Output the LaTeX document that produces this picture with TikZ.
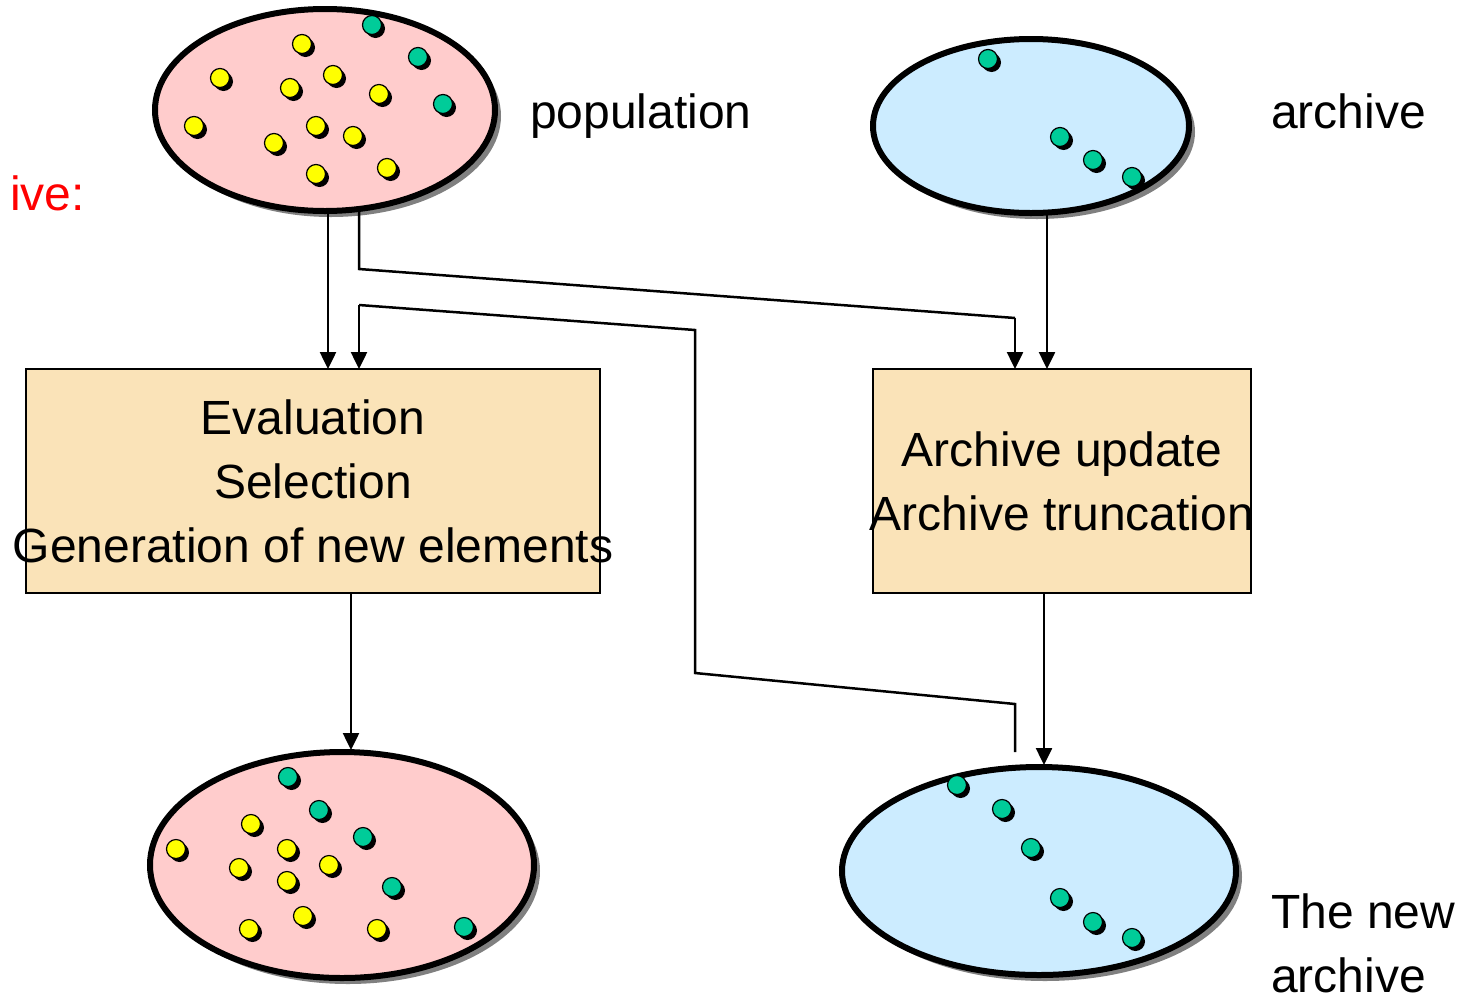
\documentclass[tikz,border=0pt]{standalone}
\usepackage{fontspec}
\setmainfont{Liberation Sans}
\usetikzlibrary{shapes.geometric,shadows,arrows.meta}
\definecolor{popfill}{HTML}{FFCCCC}
\definecolor{archfill}{HTML}{CCECFF}
\definecolor{boxfill}{HTML}{FAE3B8}
\definecolor{dotgreen}{HTML}{00CC99}
\definecolor{dotyellow}{HTML}{FFFF00}
\begin{document}
\begin{tikzpicture}[x=1pt,y=-1pt,
  every node/.style={font=\fontsize{48}{64}\selectfont},
  setell/.style={ellipse, draw=black, line width=6pt, inner sep=0pt, outer sep=0pt,
    drop shadow={shadow xshift=6pt, shadow yshift=-6pt, fill=black!50, opacity=1}},
  stepbox/.style={rectangle, draw=black, line width=1.5pt, fill=boxfill, inner sep=0pt, outer sep=0pt,
    minimum height=224pt, align=center},
  conn/.style={line width=2.5pt, -{Triangle[width=16pt,length=17pt]}},
  label/.style={inner sep=0pt, outer sep=0pt}
]
\useasboundingbox (0,0) rectangle (1472,1002);

% sets
\node[setell, fill=popfill, minimum width=340pt, minimum height=202pt] (pop) at (325,110) {};
\node[setell, fill=archfill, minimum width=316pt, minimum height=174pt] (arch) at (1031,126) {};
\node[setell, fill=popfill, minimum width=384pt, minimum height=226pt] (newpop) at (342,865) {};
\node[setell, fill=archfill, minimum width=394pt, minimum height=208pt] (newarch) at (1039,871) {};

% dots
\newcommand{\setdot}[3]{%
  \fill[black] (#1+3.5,#2+3.5) circle (9.5);
  \filldraw[fill=#3, draw=black, line width=1.2pt] (#1,#2) circle (9.5);}
\foreach \x/\y in {302/44,220/78,290/88,333/75,379/94,194/126,316/126,353/136,274/143,316/174,387/168}
  {\setdot{\x}{\y}{dotyellow}}
\foreach \x/\y in {372/25,418/57,443/104}
  {\setdot{\x}{\y}{dotgreen}}
\foreach \x/\y in {988/59,1060/137,1093/160,1132/177}
  {\setdot{\x}{\y}{dotgreen}}
\foreach \x/\y in {251/824,176/849,287/849,239/868,329/865,287/881,303/916,249/929,377/929}
  {\setdot{\x}{\y}{dotyellow}}
\foreach \x/\y in {288/777,319/810,363/837,392/887,464/927}
  {\setdot{\x}{\y}{dotgreen}}
\foreach \x/\y in {957/785,1002/809,1031/848,1060/898,1093/922,1132/938}
  {\setdot{\x}{\y}{dotgreen}}

% boxes
\node[stepbox, minimum width=574pt] (evalbox) at (313,481) {};
\node[label, align=center, text depth=0pt] at (313,481) {Evaluation\\Selection\\Generation of new elements};
\node[stepbox, minimum width=378pt] (updbox) at (1062,481) {};
\node[label, align=center] at (1062,481) {Archive update\\Archive truncation};

% labels
\node[label, anchor=base west] (poplbl) at (530,128) {population};
\node[label, anchor=base west] (archlbl) at (1271,128) {archive};
\node[label, anchor=base east, text=red] (redlbl) at (85,210) {ive:};
\node[label, anchor=base west, align=left] (newarchlbl) at (1271,992) {The new\\archive};

% connector points
\coordinate (p1) at (359,209);
\coordinate (p2) at (359,269);
\coordinate (p3) at (1015,318);
\coordinate (q0) at (1015,752);
\coordinate (q1) at (1015,704);
\coordinate (q2) at (695,673);
\coordinate (q3) at (695,330);
\coordinate (q4) at (359,305);

% connectors
\draw[conn] (328,212) -- (328,369);
\draw[line width=2.5pt] (p1) -- (p2) -- (p3);
\draw[conn] (p3) -- (p3 |- updbox.north);
\draw[conn] (arch.south -| 1047,0) -- (1047,369);
\draw[line width=2.5pt] (q0) -- (q1) -- (q2) -- (q3) -- (q4);
\draw[conn] (q4) -- (q4 |- evalbox.north);
\draw[conn] (351,593) -- (351,750);
\draw[conn] (1044,593) -- (1044,765);
\end{tikzpicture}
\end{document}
